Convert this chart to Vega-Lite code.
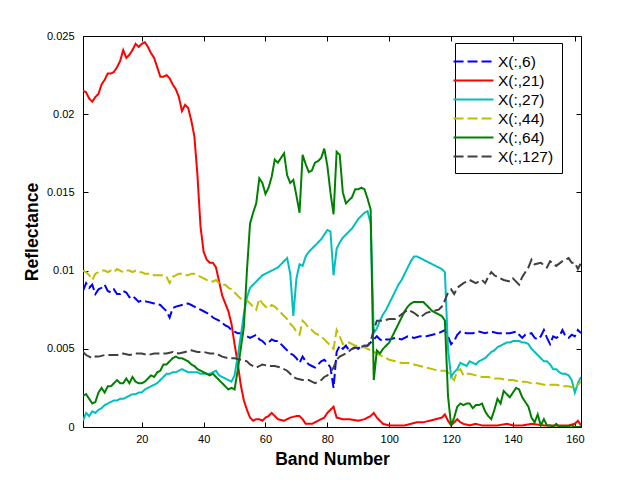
{
  "$schema": "https://vega.github.io/schema/vega-lite/v6.json",
  "autosize": "none",
  "width": 498,
  "height": 391,
  "padding": {"left": 83, "top": 36, "right": 60, "bottom": 53},
  "background": "white",
  "config": {
    "view": {"stroke": "black", "strokeWidth": 1},
    "font": "Liberation Sans",
    "axis": {
      "labelFont": "Liberation Sans", "labelFontSize": 11, "labelColor": "black",
      "titleFont": "Liberation Sans", "titleFontSize": 17.5, "titleFontWeight": "bold", "titleColor": "black",
      "tickColor": "black", "tickSize": -5, "domain": false, "grid": false
    }
  },
  "datasets": {
    "spectra": [
      {"s":"X(:,6)","b":1,"v":0.0087},{"s":"X(:,6)","b":2,"v":0.0092},{"s":"X(:,6)","b":3,"v":0.0089},{"s":"X(:,6)","b":4,"v":0.0091},{"s":"X(:,6)","b":5,"v":0.0085},{"s":"X(:,6)","b":6,"v":0.0088},{"s":"X(:,6)","b":7,"v":0.0089},{"s":"X(:,6)","b":8,"v":0.0091},{"s":"X(:,6)","b":9,"v":0.0087},{"s":"X(:,6)","b":10,"v":0.0086},{"s":"X(:,6)","b":11,"v":0.0088},{"s":"X(:,6)","b":12,"v":0.0085},{"s":"X(:,6)","b":13,"v":0.0085},{"s":"X(:,6)","b":14,"v":0.0087},{"s":"X(:,6)","b":15,"v":0.0086},{"s":"X(:,6)","b":16,"v":0.0083},{"s":"X(:,6)","b":17,"v":0.0084},{"s":"X(:,6)","b":18,"v":0.0082},{"s":"X(:,6)","b":19,"v":0.0080},{"s":"X(:,6)","b":20,"v":0.0081},{"s":"X(:,6)","b":22,"v":0.0080},{"s":"X(:,6)","b":24,"v":0.0079},{"s":"X(:,6)","b":26,"v":0.0078},{"s":"X(:,6)","b":27,"v":0.0076},{"s":"X(:,6)","b":28,"v":0.0074},{"s":"X(:,6)","b":29,"v":0.0070},{"s":"X(:,6)","b":30,"v":0.0076},{"s":"X(:,6)","b":31,"v":0.0077},{"s":"X(:,6)","b":33,"v":0.0078},{"s":"X(:,6)","b":35,"v":0.0079},{"s":"X(:,6)","b":36,"v":0.0078},{"s":"X(:,6)","b":37,"v":0.0077},{"s":"X(:,6)","b":39,"v":0.0075},{"s":"X(:,6)","b":40,"v":0.0074},{"s":"X(:,6)","b":42,"v":0.0072},{"s":"X(:,6)","b":43,"v":0.0070},{"s":"X(:,6)","b":44,"v":0.0069},{"s":"X(:,6)","b":45,"v":0.0068},{"s":"X(:,6)","b":47,"v":0.0065},{"s":"X(:,6)","b":48,"v":0.0064},{"s":"X(:,6)","b":49,"v":0.0062},{"s":"X(:,6)","b":50,"v":0.0061},{"s":"X(:,6)","b":51,"v":0.0060},{"s":"X(:,6)","b":52,"v":0.0060},{"s":"X(:,6)","b":53,"v":0.0059},{"s":"X(:,6)","b":54,"v":0.0058},{"s":"X(:,6)","b":55,"v":0.0057},{"s":"X(:,6)","b":56,"v":0.0058},{"s":"X(:,6)","b":57,"v":0.0059},{"s":"X(:,6)","b":58,"v":0.0056},{"s":"X(:,6)","b":59,"v":0.0055},{"s":"X(:,6)","b":60,"v":0.0053},{"s":"X(:,6)","b":61,"v":0.0054},{"s":"X(:,6)","b":62,"v":0.0056},{"s":"X(:,6)","b":63,"v":0.0055},{"s":"X(:,6)","b":64,"v":0.0055},{"s":"X(:,6)","b":65,"v":0.0053},{"s":"X(:,6)","b":66,"v":0.0051},{"s":"X(:,6)","b":67,"v":0.0049},{"s":"X(:,6)","b":68,"v":0.0047},{"s":"X(:,6)","b":69,"v":0.0046},{"s":"X(:,6)","b":70,"v":0.0044},{"s":"X(:,6)","b":71,"v":0.0041},{"s":"X(:,6)","b":72,"v":0.0045},{"s":"X(:,6)","b":73,"v":0.0042},{"s":"X(:,6)","b":74,"v":0.0040},{"s":"X(:,6)","b":75,"v":0.0039},{"s":"X(:,6)","b":76,"v":0.0038},{"s":"X(:,6)","b":77,"v":0.0040},{"s":"X(:,6)","b":78,"v":0.0042},{"s":"X(:,6)","b":79,"v":0.0043},{"s":"X(:,6)","b":80,"v":0.0041},{"s":"X(:,6)","b":81,"v":0.0038},{"s":"X(:,6)","b":82,"v":0.0025},{"s":"X(:,6)","b":83,"v":0.0048},{"s":"X(:,6)","b":84,"v":0.0052},{"s":"X(:,6)","b":85,"v":0.0050},{"s":"X(:,6)","b":86,"v":0.0052},{"s":"X(:,6)","b":87,"v":0.0049},{"s":"X(:,6)","b":88,"v":0.0050},{"s":"X(:,6)","b":89,"v":0.0051},{"s":"X(:,6)","b":90,"v":0.0050},{"s":"X(:,6)","b":91,"v":0.0052},{"s":"X(:,6)","b":92,"v":0.0052},{"s":"X(:,6)","b":93,"v":0.0052},{"s":"X(:,6)","b":94,"v":0.0054},{"s":"X(:,6)","b":95,"v":0.0056},{"s":"X(:,6)","b":96,"v":0.0058},{"s":"X(:,6)","b":97,"v":0.0056},{"s":"X(:,6)","b":98,"v":0.0055},{"s":"X(:,6)","b":99,"v":0.0056},{"s":"X(:,6)","b":100,"v":0.0056},{"s":"X(:,6)","b":102,"v":0.0057},{"s":"X(:,6)","b":104,"v":0.0056},{"s":"X(:,6)","b":106,"v":0.0058},{"s":"X(:,6)","b":108,"v":0.0057},{"s":"X(:,6)","b":110,"v":0.0058},{"s":"X(:,6)","b":112,"v":0.0058},{"s":"X(:,6)","b":114,"v":0.0059},{"s":"X(:,6)","b":116,"v":0.0060},{"s":"X(:,6)","b":117,"v":0.0061},{"s":"X(:,6)","b":118,"v":0.0062},{"s":"X(:,6)","b":119,"v":0.0058},{"s":"X(:,6)","b":120,"v":0.0053},{"s":"X(:,6)","b":121,"v":0.0055},{"s":"X(:,6)","b":122,"v":0.0059},{"s":"X(:,6)","b":123,"v":0.0061},{"s":"X(:,6)","b":125,"v":0.0060},{"s":"X(:,6)","b":127,"v":0.0060},{"s":"X(:,6)","b":129,"v":0.0061},{"s":"X(:,6)","b":131,"v":0.0060},{"s":"X(:,6)","b":133,"v":0.0061},{"s":"X(:,6)","b":135,"v":0.0060},{"s":"X(:,6)","b":137,"v":0.0060},{"s":"X(:,6)","b":139,"v":0.0060},{"s":"X(:,6)","b":141,"v":0.0061},{"s":"X(:,6)","b":142,"v":0.0059},{"s":"X(:,6)","b":143,"v":0.0057},{"s":"X(:,6)","b":144,"v":0.0059},{"s":"X(:,6)","b":146,"v":0.0060},{"s":"X(:,6)","b":147,"v":0.0057},{"s":"X(:,6)","b":148,"v":0.0056},{"s":"X(:,6)","b":149,"v":0.0058},{"s":"X(:,6)","b":150,"v":0.0062},{"s":"X(:,6)","b":151,"v":0.0057},{"s":"X(:,6)","b":152,"v":0.0053},{"s":"X(:,6)","b":153,"v":0.0058},{"s":"X(:,6)","b":154,"v":0.0057},{"s":"X(:,6)","b":155,"v":0.0058},{"s":"X(:,6)","b":156,"v":0.0062},{"s":"X(:,6)","b":157,"v":0.0058},{"s":"X(:,6)","b":158,"v":0.0057},{"s":"X(:,6)","b":159,"v":0.0059},{"s":"X(:,6)","b":160,"v":0.0058},{"s":"X(:,6)","b":161,"v":0.0062},{"s":"X(:,6)","b":162,"v":0.0060},
      {"s":"X(:,21)","b":1,"v":0.0215},{"s":"X(:,21)","b":2,"v":0.0214},{"s":"X(:,21)","b":3,"v":0.0210},{"s":"X(:,21)","b":4,"v":0.0208},{"s":"X(:,21)","b":5,"v":0.0211},{"s":"X(:,21)","b":6,"v":0.0213},{"s":"X(:,21)","b":7,"v":0.0219},{"s":"X(:,21)","b":8,"v":0.0222},{"s":"X(:,21)","b":9,"v":0.0226},{"s":"X(:,21)","b":10,"v":0.0226},{"s":"X(:,21)","b":11,"v":0.0227},{"s":"X(:,21)","b":12,"v":0.0230},{"s":"X(:,21)","b":13,"v":0.0234},{"s":"X(:,21)","b":14,"v":0.0241},{"s":"X(:,21)","b":15,"v":0.0236},{"s":"X(:,21)","b":16,"v":0.0238},{"s":"X(:,21)","b":17,"v":0.0241},{"s":"X(:,21)","b":18,"v":0.0245},{"s":"X(:,21)","b":19,"v":0.0243},{"s":"X(:,21)","b":20,"v":0.0245},{"s":"X(:,21)","b":21,"v":0.0246},{"s":"X(:,21)","b":22,"v":0.0243},{"s":"X(:,21)","b":23,"v":0.0239},{"s":"X(:,21)","b":24,"v":0.0236},{"s":"X(:,21)","b":25,"v":0.0230},{"s":"X(:,21)","b":26,"v":0.0224},{"s":"X(:,21)","b":27,"v":0.0224},{"s":"X(:,21)","b":28,"v":0.0225},{"s":"X(:,21)","b":29,"v":0.0223},{"s":"X(:,21)","b":30,"v":0.0219},{"s":"X(:,21)","b":31,"v":0.0216},{"s":"X(:,21)","b":32,"v":0.0211},{"s":"X(:,21)","b":33,"v":0.0202},{"s":"X(:,21)","b":34,"v":0.0206},{"s":"X(:,21)","b":35,"v":0.0204},{"s":"X(:,21)","b":36,"v":0.0196},{"s":"X(:,21)","b":37,"v":0.0186},{"s":"X(:,21)","b":38,"v":0.0161},{"s":"X(:,21)","b":39,"v":0.0128},{"s":"X(:,21)","b":40,"v":0.0112},{"s":"X(:,21)","b":41,"v":0.0107},{"s":"X(:,21)","b":42,"v":0.0105},{"s":"X(:,21)","b":43,"v":0.0105},{"s":"X(:,21)","b":44,"v":0.0102},{"s":"X(:,21)","b":45,"v":0.0093},{"s":"X(:,21)","b":46,"v":0.0084},{"s":"X(:,21)","b":47,"v":0.0079},{"s":"X(:,21)","b":48,"v":0.0074},{"s":"X(:,21)","b":49,"v":0.0066},{"s":"X(:,21)","b":50,"v":0.0053},{"s":"X(:,21)","b":51,"v":0.0041},{"s":"X(:,21)","b":52,"v":0.0027},{"s":"X(:,21)","b":53,"v":0.0017},{"s":"X(:,21)","b":54,"v":0.0011},{"s":"X(:,21)","b":55,"v":0.0006},{"s":"X(:,21)","b":56,"v":0.0004},{"s":"X(:,21)","b":57,"v":0.0005},{"s":"X(:,21)","b":58,"v":0.0005},{"s":"X(:,21)","b":59,"v":0.0004},{"s":"X(:,21)","b":60,"v":0.0006},{"s":"X(:,21)","b":61,"v":0.0007},{"s":"X(:,21)","b":62,"v":0.0009},{"s":"X(:,21)","b":63,"v":0.0007},{"s":"X(:,21)","b":64,"v":0.0005},{"s":"X(:,21)","b":66,"v":0.0004},{"s":"X(:,21)","b":68,"v":0.0006},{"s":"X(:,21)","b":70,"v":0.0007},{"s":"X(:,21)","b":71,"v":0.0007},{"s":"X(:,21)","b":72,"v":0.0005},{"s":"X(:,21)","b":73,"v":0.0002},{"s":"X(:,21)","b":75,"v":0.0002},{"s":"X(:,21)","b":76,"v":0.0003},{"s":"X(:,21)","b":78,"v":0.0005},{"s":"X(:,21)","b":79,"v":0.0006},{"s":"X(:,21)","b":80,"v":0.0009},{"s":"X(:,21)","b":81,"v":0.0011},{"s":"X(:,21)","b":82,"v":0.0013},{"s":"X(:,21)","b":83,"v":0.0006},{"s":"X(:,21)","b":85,"v":0.0005},{"s":"X(:,21)","b":87,"v":0.0005},{"s":"X(:,21)","b":90,"v":0.0004},{"s":"X(:,21)","b":92,"v":0.0005},{"s":"X(:,21)","b":94,"v":0.0007},{"s":"X(:,21)","b":95,"v":0.0009},{"s":"X(:,21)","b":96,"v":0.0006},{"s":"X(:,21)","b":97,"v":0.0004},{"s":"X(:,21)","b":98,"v":0.0002},{"s":"X(:,21)","b":100,"v":0.0001},{"s":"X(:,21)","b":103,"v":0.0001},{"s":"X(:,21)","b":105,"v":0.0001},{"s":"X(:,21)","b":107,"v":0.0002},{"s":"X(:,21)","b":109,"v":0.0003},{"s":"X(:,21)","b":111,"v":0.0003},{"s":"X(:,21)","b":113,"v":0.0004},{"s":"X(:,21)","b":115,"v":0.0005},{"s":"X(:,21)","b":117,"v":0.0006},{"s":"X(:,21)","b":118,"v":0.0008},{"s":"X(:,21)","b":119,"v":0.0004},{"s":"X(:,21)","b":120,"v":0.0001},{"s":"X(:,21)","b":121,"v":0.0003},{"s":"X(:,21)","b":122,"v":0.0005},{"s":"X(:,21)","b":123,"v":0.0003},{"s":"X(:,21)","b":124,"v":0.0002},{"s":"X(:,21)","b":126,"v":0.0001},{"s":"X(:,21)","b":128,"v":0.0002},{"s":"X(:,21)","b":130,"v":0.0001},{"s":"X(:,21)","b":132,"v":0.0001},{"s":"X(:,21)","b":135,"v":0.0001},{"s":"X(:,21)","b":138,"v":0.0002},{"s":"X(:,21)","b":140,"v":0.0001},{"s":"X(:,21)","b":143,"v":0.0001},{"s":"X(:,21)","b":146,"v":0.0002},{"s":"X(:,21)","b":150,"v":0.0001},{"s":"X(:,21)","b":154,"v":0.0001},{"s":"X(:,21)","b":158,"v":0.0001},{"s":"X(:,21)","b":160,"v":0.0002},{"s":"X(:,21)","b":161,"v":0.0004},{"s":"X(:,21)","b":162,"v":0.0001},
      {"s":"X(:,27)","b":1,"v":0.0004},{"s":"X(:,27)","b":2,"v":0.0009},{"s":"X(:,27)","b":3,"v":0.0007},{"s":"X(:,27)","b":4,"v":0.0010},{"s":"X(:,27)","b":5,"v":0.0009},{"s":"X(:,27)","b":6,"v":0.0011},{"s":"X(:,27)","b":7,"v":0.0012},{"s":"X(:,27)","b":8,"v":0.0014},{"s":"X(:,27)","b":9,"v":0.0015},{"s":"X(:,27)","b":10,"v":0.0016},{"s":"X(:,27)","b":11,"v":0.0017},{"s":"X(:,27)","b":12,"v":0.0017},{"s":"X(:,27)","b":13,"v":0.0018},{"s":"X(:,27)","b":14,"v":0.0018},{"s":"X(:,27)","b":15,"v":0.0019},{"s":"X(:,27)","b":16,"v":0.0020},{"s":"X(:,27)","b":17,"v":0.0021},{"s":"X(:,27)","b":18,"v":0.0021},{"s":"X(:,27)","b":19,"v":0.0022},{"s":"X(:,27)","b":20,"v":0.0022},{"s":"X(:,27)","b":21,"v":0.0024},{"s":"X(:,27)","b":22,"v":0.0025},{"s":"X(:,27)","b":23,"v":0.0026},{"s":"X(:,27)","b":24,"v":0.0027},{"s":"X(:,27)","b":25,"v":0.0028},{"s":"X(:,27)","b":26,"v":0.0030},{"s":"X(:,27)","b":27,"v":0.0032},{"s":"X(:,27)","b":28,"v":0.0034},{"s":"X(:,27)","b":29,"v":0.0034},{"s":"X(:,27)","b":30,"v":0.0035},{"s":"X(:,27)","b":31,"v":0.0035},{"s":"X(:,27)","b":32,"v":0.0036},{"s":"X(:,27)","b":33,"v":0.0037},{"s":"X(:,27)","b":34,"v":0.0036},{"s":"X(:,27)","b":35,"v":0.0035},{"s":"X(:,27)","b":36,"v":0.0035},{"s":"X(:,27)","b":37,"v":0.0035},{"s":"X(:,27)","b":38,"v":0.0035},{"s":"X(:,27)","b":39,"v":0.0034},{"s":"X(:,27)","b":40,"v":0.0034},{"s":"X(:,27)","b":41,"v":0.0034},{"s":"X(:,27)","b":42,"v":0.0034},{"s":"X(:,27)","b":43,"v":0.0035},{"s":"X(:,27)","b":44,"v":0.0036},{"s":"X(:,27)","b":45,"v":0.0033},{"s":"X(:,27)","b":46,"v":0.0032},{"s":"X(:,27)","b":47,"v":0.0031},{"s":"X(:,27)","b":48,"v":0.0030},{"s":"X(:,27)","b":49,"v":0.0029},{"s":"X(:,27)","b":50,"v":0.0033},{"s":"X(:,27)","b":51,"v":0.0045},{"s":"X(:,27)","b":52,"v":0.0058},{"s":"X(:,27)","b":53,"v":0.0072},{"s":"X(:,27)","b":54,"v":0.0083},{"s":"X(:,27)","b":55,"v":0.0089},{"s":"X(:,27)","b":56,"v":0.0091},{"s":"X(:,27)","b":57,"v":0.0093},{"s":"X(:,27)","b":58,"v":0.0095},{"s":"X(:,27)","b":59,"v":0.0097},{"s":"X(:,27)","b":60,"v":0.0098},{"s":"X(:,27)","b":61,"v":0.0099},{"s":"X(:,27)","b":62,"v":0.0100},{"s":"X(:,27)","b":63,"v":0.0101},{"s":"X(:,27)","b":64,"v":0.0102},{"s":"X(:,27)","b":65,"v":0.0104},{"s":"X(:,27)","b":66,"v":0.0106},{"s":"X(:,27)","b":67,"v":0.0108},{"s":"X(:,27)","b":68,"v":0.0098},{"s":"X(:,27)","b":69,"v":0.0071},{"s":"X(:,27)","b":70,"v":0.0095},{"s":"X(:,27)","b":71,"v":0.0104},{"s":"X(:,27)","b":72,"v":0.0103},{"s":"X(:,27)","b":73,"v":0.0109},{"s":"X(:,27)","b":74,"v":0.0112},{"s":"X(:,27)","b":75,"v":0.0114},{"s":"X(:,27)","b":76,"v":0.0116},{"s":"X(:,27)","b":77,"v":0.0118},{"s":"X(:,27)","b":78,"v":0.0120},{"s":"X(:,27)","b":79,"v":0.0123},{"s":"X(:,27)","b":80,"v":0.0126},{"s":"X(:,27)","b":81,"v":0.0125},{"s":"X(:,27)","b":82,"v":0.0097},{"s":"X(:,27)","b":83,"v":0.0114},{"s":"X(:,27)","b":84,"v":0.0118},{"s":"X(:,27)","b":85,"v":0.0121},{"s":"X(:,27)","b":86,"v":0.0123},{"s":"X(:,27)","b":87,"v":0.0125},{"s":"X(:,27)","b":88,"v":0.0127},{"s":"X(:,27)","b":89,"v":0.0130},{"s":"X(:,27)","b":90,"v":0.0133},{"s":"X(:,27)","b":91,"v":0.0135},{"s":"X(:,27)","b":92,"v":0.0137},{"s":"X(:,27)","b":93,"v":0.0138},{"s":"X(:,27)","b":94,"v":0.0130},{"s":"X(:,27)","b":95,"v":0.0060},{"s":"X(:,27)","b":96,"v":0.0063},{"s":"X(:,27)","b":97,"v":0.0068},{"s":"X(:,27)","b":98,"v":0.0072},{"s":"X(:,27)","b":99,"v":0.0075},{"s":"X(:,27)","b":100,"v":0.0079},{"s":"X(:,27)","b":101,"v":0.0083},{"s":"X(:,27)","b":102,"v":0.0087},{"s":"X(:,27)","b":103,"v":0.0091},{"s":"X(:,27)","b":104,"v":0.0094},{"s":"X(:,27)","b":105,"v":0.0098},{"s":"X(:,27)","b":106,"v":0.0102},{"s":"X(:,27)","b":107,"v":0.0106},{"s":"X(:,27)","b":108,"v":0.0109},{"s":"X(:,27)","b":109,"v":0.0109},{"s":"X(:,27)","b":110,"v":0.0108},{"s":"X(:,27)","b":111,"v":0.0107},{"s":"X(:,27)","b":112,"v":0.0106},{"s":"X(:,27)","b":113,"v":0.0105},{"s":"X(:,27)","b":114,"v":0.0104},{"s":"X(:,27)","b":115,"v":0.0103},{"s":"X(:,27)","b":116,"v":0.0102},{"s":"X(:,27)","b":117,"v":0.0101},{"s":"X(:,27)","b":118,"v":0.0099},{"s":"X(:,27)","b":119,"v":0.0050},{"s":"X(:,27)","b":120,"v":0.0032},{"s":"X(:,27)","b":121,"v":0.0035},{"s":"X(:,27)","b":122,"v":0.0037},{"s":"X(:,27)","b":123,"v":0.0041},{"s":"X(:,27)","b":124,"v":0.0040},{"s":"X(:,27)","b":125,"v":0.0039},{"s":"X(:,27)","b":126,"v":0.0042},{"s":"X(:,27)","b":127,"v":0.0041},{"s":"X(:,27)","b":128,"v":0.0040},{"s":"X(:,27)","b":129,"v":0.0042},{"s":"X(:,27)","b":130,"v":0.0043},{"s":"X(:,27)","b":131,"v":0.0044},{"s":"X(:,27)","b":132,"v":0.0046},{"s":"X(:,27)","b":133,"v":0.0048},{"s":"X(:,27)","b":134,"v":0.0049},{"s":"X(:,27)","b":135,"v":0.0051},{"s":"X(:,27)","b":136,"v":0.0052},{"s":"X(:,27)","b":137,"v":0.0053},{"s":"X(:,27)","b":138,"v":0.0054},{"s":"X(:,27)","b":139,"v":0.0054},{"s":"X(:,27)","b":140,"v":0.0055},{"s":"X(:,27)","b":141,"v":0.0055},{"s":"X(:,27)","b":142,"v":0.0055},{"s":"X(:,27)","b":143,"v":0.0054},{"s":"X(:,27)","b":144,"v":0.0054},{"s":"X(:,27)","b":145,"v":0.0053},{"s":"X(:,27)","b":146,"v":0.0050},{"s":"X(:,27)","b":147,"v":0.0048},{"s":"X(:,27)","b":148,"v":0.0046},{"s":"X(:,27)","b":149,"v":0.0044},{"s":"X(:,27)","b":150,"v":0.0042},{"s":"X(:,27)","b":151,"v":0.0042},{"s":"X(:,27)","b":152,"v":0.0040},{"s":"X(:,27)","b":153,"v":0.0037},{"s":"X(:,27)","b":154,"v":0.0037},{"s":"X(:,27)","b":155,"v":0.0035},{"s":"X(:,27)","b":156,"v":0.0034},{"s":"X(:,27)","b":157,"v":0.0034},{"s":"X(:,27)","b":158,"v":0.0033},{"s":"X(:,27)","b":159,"v":0.0030},{"s":"X(:,27)","b":160,"v":0.0022},{"s":"X(:,27)","b":161,"v":0.0028},{"s":"X(:,27)","b":162,"v":0.0032},
      {"s":"X(:,44)","b":1,"v":0.0100},{"s":"X(:,44)","b":2,"v":0.0099},{"s":"X(:,44)","b":3,"v":0.0097},{"s":"X(:,44)","b":4,"v":0.0094},{"s":"X(:,44)","b":5,"v":0.0098},{"s":"X(:,44)","b":6,"v":0.0099},{"s":"X(:,44)","b":7,"v":0.0100},{"s":"X(:,44)","b":8,"v":0.0100},{"s":"X(:,44)","b":9,"v":0.0099},{"s":"X(:,44)","b":10,"v":0.0100},{"s":"X(:,44)","b":11,"v":0.0099},{"s":"X(:,44)","b":12,"v":0.0101},{"s":"X(:,44)","b":13,"v":0.0100},{"s":"X(:,44)","b":14,"v":0.0099},{"s":"X(:,44)","b":15,"v":0.0100},{"s":"X(:,44)","b":16,"v":0.0100},{"s":"X(:,44)","b":17,"v":0.0099},{"s":"X(:,44)","b":18,"v":0.0100},{"s":"X(:,44)","b":19,"v":0.0099},{"s":"X(:,44)","b":20,"v":0.0099},{"s":"X(:,44)","b":21,"v":0.0098},{"s":"X(:,44)","b":22,"v":0.0098},{"s":"X(:,44)","b":23,"v":0.0098},{"s":"X(:,44)","b":24,"v":0.0097},{"s":"X(:,44)","b":25,"v":0.0097},{"s":"X(:,44)","b":26,"v":0.0097},{"s":"X(:,44)","b":27,"v":0.0097},{"s":"X(:,44)","b":28,"v":0.0096},{"s":"X(:,44)","b":29,"v":0.0092},{"s":"X(:,44)","b":30,"v":0.0096},{"s":"X(:,44)","b":31,"v":0.0097},{"s":"X(:,44)","b":32,"v":0.0098},{"s":"X(:,44)","b":33,"v":0.0098},{"s":"X(:,44)","b":34,"v":0.0097},{"s":"X(:,44)","b":35,"v":0.0097},{"s":"X(:,44)","b":36,"v":0.0098},{"s":"X(:,44)","b":37,"v":0.0098},{"s":"X(:,44)","b":38,"v":0.0097},{"s":"X(:,44)","b":39,"v":0.0096},{"s":"X(:,44)","b":40,"v":0.0095},{"s":"X(:,44)","b":41,"v":0.0094},{"s":"X(:,44)","b":42,"v":0.0094},{"s":"X(:,44)","b":43,"v":0.0093},{"s":"X(:,44)","b":44,"v":0.0094},{"s":"X(:,44)","b":45,"v":0.0092},{"s":"X(:,44)","b":46,"v":0.0091},{"s":"X(:,44)","b":47,"v":0.0091},{"s":"X(:,44)","b":48,"v":0.0089},{"s":"X(:,44)","b":49,"v":0.0088},{"s":"X(:,44)","b":50,"v":0.0086},{"s":"X(:,44)","b":51,"v":0.0084},{"s":"X(:,44)","b":52,"v":0.0082},{"s":"X(:,44)","b":53,"v":0.0081},{"s":"X(:,44)","b":54,"v":0.0081},{"s":"X(:,44)","b":55,"v":0.0079},{"s":"X(:,44)","b":56,"v":0.0077},{"s":"X(:,44)","b":57,"v":0.0075},{"s":"X(:,44)","b":58,"v":0.0082},{"s":"X(:,44)","b":59,"v":0.0079},{"s":"X(:,44)","b":60,"v":0.0077},{"s":"X(:,44)","b":61,"v":0.0076},{"s":"X(:,44)","b":62,"v":0.0078},{"s":"X(:,44)","b":63,"v":0.0077},{"s":"X(:,44)","b":64,"v":0.0075},{"s":"X(:,44)","b":65,"v":0.0073},{"s":"X(:,44)","b":66,"v":0.0071},{"s":"X(:,44)","b":67,"v":0.0069},{"s":"X(:,44)","b":68,"v":0.0066},{"s":"X(:,44)","b":69,"v":0.0064},{"s":"X(:,44)","b":70,"v":0.0061},{"s":"X(:,44)","b":71,"v":0.0059},{"s":"X(:,44)","b":72,"v":0.0068},{"s":"X(:,44)","b":73,"v":0.0066},{"s":"X(:,44)","b":74,"v":0.0063},{"s":"X(:,44)","b":75,"v":0.0062},{"s":"X(:,44)","b":76,"v":0.0060},{"s":"X(:,44)","b":77,"v":0.0059},{"s":"X(:,44)","b":78,"v":0.0058},{"s":"X(:,44)","b":79,"v":0.0056},{"s":"X(:,44)","b":80,"v":0.0054},{"s":"X(:,44)","b":81,"v":0.0052},{"s":"X(:,44)","b":82,"v":0.0050},{"s":"X(:,44)","b":83,"v":0.0062},{"s":"X(:,44)","b":84,"v":0.0058},{"s":"X(:,44)","b":85,"v":0.0053},{"s":"X(:,44)","b":86,"v":0.0054},{"s":"X(:,44)","b":87,"v":0.0054},{"s":"X(:,44)","b":88,"v":0.0053},{"s":"X(:,44)","b":89,"v":0.0052},{"s":"X(:,44)","b":90,"v":0.0052},{"s":"X(:,44)","b":91,"v":0.0051},{"s":"X(:,44)","b":92,"v":0.0051},{"s":"X(:,44)","b":93,"v":0.0050},{"s":"X(:,44)","b":94,"v":0.0049},{"s":"X(:,44)","b":95,"v":0.0048},{"s":"X(:,44)","b":96,"v":0.0047},{"s":"X(:,44)","b":97,"v":0.0046},{"s":"X(:,44)","b":98,"v":0.0045},{"s":"X(:,44)","b":99,"v":0.0044},{"s":"X(:,44)","b":100,"v":0.0043},{"s":"X(:,44)","b":102,"v":0.0042},{"s":"X(:,44)","b":104,"v":0.0041},{"s":"X(:,44)","b":106,"v":0.0041},{"s":"X(:,44)","b":108,"v":0.0040},{"s":"X(:,44)","b":110,"v":0.0039},{"s":"X(:,44)","b":112,"v":0.0038},{"s":"X(:,44)","b":114,"v":0.0037},{"s":"X(:,44)","b":116,"v":0.0036},{"s":"X(:,44)","b":118,"v":0.0036},{"s":"X(:,44)","b":119,"v":0.0035},{"s":"X(:,44)","b":120,"v":0.0032},{"s":"X(:,44)","b":121,"v":0.0030},{"s":"X(:,44)","b":122,"v":0.0036},{"s":"X(:,44)","b":123,"v":0.0037},{"s":"X(:,44)","b":124,"v":0.0033},{"s":"X(:,44)","b":125,"v":0.0034},{"s":"X(:,44)","b":126,"v":0.0034},{"s":"X(:,44)","b":128,"v":0.0033},{"s":"X(:,44)","b":130,"v":0.0032},{"s":"X(:,44)","b":132,"v":0.0032},{"s":"X(:,44)","b":134,"v":0.0031},{"s":"X(:,44)","b":136,"v":0.0031},{"s":"X(:,44)","b":138,"v":0.0030},{"s":"X(:,44)","b":140,"v":0.0030},{"s":"X(:,44)","b":142,"v":0.0029},{"s":"X(:,44)","b":144,"v":0.0029},{"s":"X(:,44)","b":146,"v":0.0028},{"s":"X(:,44)","b":148,"v":0.0028},{"s":"X(:,44)","b":150,"v":0.0027},{"s":"X(:,44)","b":152,"v":0.0027},{"s":"X(:,44)","b":154,"v":0.0027},{"s":"X(:,44)","b":156,"v":0.0026},{"s":"X(:,44)","b":158,"v":0.0026},{"s":"X(:,44)","b":160,"v":0.0025},{"s":"X(:,44)","b":161,"v":0.0027},{"s":"X(:,44)","b":162,"v":0.0029},
      {"s":"X(:,64)","b":1,"v":0.0020},{"s":"X(:,64)","b":2,"v":0.0021},{"s":"X(:,64)","b":3,"v":0.0018},{"s":"X(:,64)","b":4,"v":0.0015},{"s":"X(:,64)","b":5,"v":0.0016},{"s":"X(:,64)","b":6,"v":0.0022},{"s":"X(:,64)","b":7,"v":0.0025},{"s":"X(:,64)","b":8,"v":0.0022},{"s":"X(:,64)","b":9,"v":0.0026},{"s":"X(:,64)","b":10,"v":0.0026},{"s":"X(:,64)","b":11,"v":0.0028},{"s":"X(:,64)","b":12,"v":0.0030},{"s":"X(:,64)","b":13,"v":0.0028},{"s":"X(:,64)","b":14,"v":0.0028},{"s":"X(:,64)","b":15,"v":0.0031},{"s":"X(:,64)","b":16,"v":0.0028},{"s":"X(:,64)","b":17,"v":0.0032},{"s":"X(:,64)","b":18,"v":0.0029},{"s":"X(:,64)","b":19,"v":0.0028},{"s":"X(:,64)","b":20,"v":0.0028},{"s":"X(:,64)","b":21,"v":0.0029},{"s":"X(:,64)","b":22,"v":0.0031},{"s":"X(:,64)","b":23,"v":0.0033},{"s":"X(:,64)","b":24,"v":0.0032},{"s":"X(:,64)","b":25,"v":0.0035},{"s":"X(:,64)","b":26,"v":0.0036},{"s":"X(:,64)","b":27,"v":0.0040},{"s":"X(:,64)","b":28,"v":0.0040},{"s":"X(:,64)","b":29,"v":0.0042},{"s":"X(:,64)","b":30,"v":0.0044},{"s":"X(:,64)","b":31,"v":0.0045},{"s":"X(:,64)","b":32,"v":0.0044},{"s":"X(:,64)","b":33,"v":0.0044},{"s":"X(:,64)","b":34,"v":0.0043},{"s":"X(:,64)","b":35,"v":0.0042},{"s":"X(:,64)","b":36,"v":0.0040},{"s":"X(:,64)","b":37,"v":0.0039},{"s":"X(:,64)","b":38,"v":0.0037},{"s":"X(:,64)","b":39,"v":0.0036},{"s":"X(:,64)","b":40,"v":0.0035},{"s":"X(:,64)","b":41,"v":0.0034},{"s":"X(:,64)","b":42,"v":0.0033},{"s":"X(:,64)","b":43,"v":0.0034},{"s":"X(:,64)","b":44,"v":0.0032},{"s":"X(:,64)","b":45,"v":0.0030},{"s":"X(:,64)","b":46,"v":0.0028},{"s":"X(:,64)","b":47,"v":0.0026},{"s":"X(:,64)","b":48,"v":0.0024},{"s":"X(:,64)","b":49,"v":0.0025},{"s":"X(:,64)","b":50,"v":0.0024},{"s":"X(:,64)","b":51,"v":0.0036},{"s":"X(:,64)","b":52,"v":0.0050},{"s":"X(:,64)","b":53,"v":0.0064},{"s":"X(:,64)","b":54,"v":0.0100},{"s":"X(:,64)","b":55,"v":0.0130},{"s":"X(:,64)","b":56,"v":0.0137},{"s":"X(:,64)","b":57,"v":0.0143},{"s":"X(:,64)","b":58,"v":0.0159},{"s":"X(:,64)","b":59,"v":0.0156},{"s":"X(:,64)","b":60,"v":0.0149},{"s":"X(:,64)","b":61,"v":0.0153},{"s":"X(:,64)","b":62,"v":0.0160},{"s":"X(:,64)","b":63,"v":0.0171},{"s":"X(:,64)","b":64,"v":0.0169},{"s":"X(:,64)","b":65,"v":0.0172},{"s":"X(:,64)","b":66,"v":0.0175},{"s":"X(:,64)","b":67,"v":0.0161},{"s":"X(:,64)","b":68,"v":0.0156},{"s":"X(:,64)","b":69,"v":0.0158},{"s":"X(:,64)","b":70,"v":0.0148},{"s":"X(:,64)","b":71,"v":0.0137},{"s":"X(:,64)","b":72,"v":0.0174},{"s":"X(:,64)","b":73,"v":0.0168},{"s":"X(:,64)","b":74,"v":0.0163},{"s":"X(:,64)","b":75,"v":0.0164},{"s":"X(:,64)","b":76,"v":0.0169},{"s":"X(:,64)","b":77,"v":0.0170},{"s":"X(:,64)","b":78,"v":0.0172},{"s":"X(:,64)","b":79,"v":0.0178},{"s":"X(:,64)","b":80,"v":0.0167},{"s":"X(:,64)","b":81,"v":0.0150},{"s":"X(:,64)","b":82,"v":0.0136},{"s":"X(:,64)","b":83,"v":0.0176},{"s":"X(:,64)","b":84,"v":0.0174},{"s":"X(:,64)","b":85,"v":0.0150},{"s":"X(:,64)","b":86,"v":0.0143},{"s":"X(:,64)","b":87,"v":0.0145},{"s":"X(:,64)","b":88,"v":0.0147},{"s":"X(:,64)","b":89,"v":0.0152},{"s":"X(:,64)","b":90,"v":0.0152},{"s":"X(:,64)","b":91,"v":0.0153},{"s":"X(:,64)","b":92,"v":0.0152},{"s":"X(:,64)","b":93,"v":0.0146},{"s":"X(:,64)","b":94,"v":0.0139},{"s":"X(:,64)","b":95,"v":0.0030},{"s":"X(:,64)","b":96,"v":0.0049},{"s":"X(:,64)","b":97,"v":0.0047},{"s":"X(:,64)","b":98,"v":0.0050},{"s":"X(:,64)","b":99,"v":0.0052},{"s":"X(:,64)","b":100,"v":0.0054},{"s":"X(:,64)","b":101,"v":0.0058},{"s":"X(:,64)","b":102,"v":0.0062},{"s":"X(:,64)","b":103,"v":0.0066},{"s":"X(:,64)","b":104,"v":0.0070},{"s":"X(:,64)","b":105,"v":0.0074},{"s":"X(:,64)","b":106,"v":0.0077},{"s":"X(:,64)","b":107,"v":0.0079},{"s":"X(:,64)","b":108,"v":0.0080},{"s":"X(:,64)","b":109,"v":0.0080},{"s":"X(:,64)","b":110,"v":0.0080},{"s":"X(:,64)","b":111,"v":0.0080},{"s":"X(:,64)","b":112,"v":0.0078},{"s":"X(:,64)","b":113,"v":0.0076},{"s":"X(:,64)","b":114,"v":0.0074},{"s":"X(:,64)","b":115,"v":0.0073},{"s":"X(:,64)","b":116,"v":0.0072},{"s":"X(:,64)","b":117,"v":0.0071},{"s":"X(:,64)","b":118,"v":0.0068},{"s":"X(:,64)","b":119,"v":0.0020},{"s":"X(:,64)","b":120,"v":0.0001},{"s":"X(:,64)","b":121,"v":0.0006},{"s":"X(:,64)","b":122,"v":0.0013},{"s":"X(:,64)","b":123,"v":0.0015},{"s":"X(:,64)","b":124,"v":0.0014},{"s":"X(:,64)","b":125,"v":0.0015},{"s":"X(:,64)","b":126,"v":0.0015},{"s":"X(:,64)","b":127,"v":0.0012},{"s":"X(:,64)","b":128,"v":0.0014},{"s":"X(:,64)","b":129,"v":0.0014},{"s":"X(:,64)","b":130,"v":0.0015},{"s":"X(:,64)","b":131,"v":0.0010},{"s":"X(:,64)","b":132,"v":0.0007},{"s":"X(:,64)","b":133,"v":0.0005},{"s":"X(:,64)","b":134,"v":0.0011},{"s":"X(:,64)","b":135,"v":0.0018},{"s":"X(:,64)","b":136,"v":0.0015},{"s":"X(:,64)","b":137,"v":0.0023},{"s":"X(:,64)","b":138,"v":0.0021},{"s":"X(:,64)","b":139,"v":0.0019},{"s":"X(:,64)","b":140,"v":0.0022},{"s":"X(:,64)","b":141,"v":0.0025},{"s":"X(:,64)","b":142,"v":0.0024},{"s":"X(:,64)","b":143,"v":0.0019},{"s":"X(:,64)","b":144,"v":0.0016},{"s":"X(:,64)","b":145,"v":0.0013},{"s":"X(:,64)","b":146,"v":0.0006},{"s":"X(:,64)","b":147,"v":0.0003},{"s":"X(:,64)","b":148,"v":0.0008},{"s":"X(:,64)","b":149,"v":0.0001},{"s":"X(:,64)","b":150,"v":0.0005},{"s":"X(:,64)","b":151,"v":0.0001},{"s":"X(:,64)","b":152,"v":0.0001},{"s":"X(:,64)","b":153,"v":0.0000},{"s":"X(:,64)","b":154,"v":0.0002},{"s":"X(:,64)","b":155,"v":0.0000},{"s":"X(:,64)","b":157,"v":0.0000},{"s":"X(:,64)","b":159,"v":0.0001},{"s":"X(:,64)","b":160,"v":0.0000},{"s":"X(:,64)","b":162,"v":0.0000},
      {"s":"X(:,127)","b":1,"v":0.0048},{"s":"X(:,127)","b":2,"v":0.0046},{"s":"X(:,127)","b":3,"v":0.0045},{"s":"X(:,127)","b":4,"v":0.0044},{"s":"X(:,127)","b":5,"v":0.0045},{"s":"X(:,127)","b":6,"v":0.0045},{"s":"X(:,127)","b":8,"v":0.0046},{"s":"X(:,127)","b":10,"v":0.0046},{"s":"X(:,127)","b":12,"v":0.0046},{"s":"X(:,127)","b":14,"v":0.0047},{"s":"X(:,127)","b":16,"v":0.0046},{"s":"X(:,127)","b":18,"v":0.0047},{"s":"X(:,127)","b":20,"v":0.0047},{"s":"X(:,127)","b":22,"v":0.0046},{"s":"X(:,127)","b":24,"v":0.0047},{"s":"X(:,127)","b":26,"v":0.0047},{"s":"X(:,127)","b":28,"v":0.0047},{"s":"X(:,127)","b":30,"v":0.0048},{"s":"X(:,127)","b":32,"v":0.0047},{"s":"X(:,127)","b":34,"v":0.0048},{"s":"X(:,127)","b":36,"v":0.0049},{"s":"X(:,127)","b":38,"v":0.0048},{"s":"X(:,127)","b":40,"v":0.0048},{"s":"X(:,127)","b":42,"v":0.0047},{"s":"X(:,127)","b":44,"v":0.0047},{"s":"X(:,127)","b":46,"v":0.0045},{"s":"X(:,127)","b":48,"v":0.0044},{"s":"X(:,127)","b":50,"v":0.0044},{"s":"X(:,127)","b":52,"v":0.0043},{"s":"X(:,127)","b":54,"v":0.0042},{"s":"X(:,127)","b":55,"v":0.0040},{"s":"X(:,127)","b":57,"v":0.0038},{"s":"X(:,127)","b":59,"v":0.0040},{"s":"X(:,127)","b":61,"v":0.0039},{"s":"X(:,127)","b":63,"v":0.0039},{"s":"X(:,127)","b":65,"v":0.0038},{"s":"X(:,127)","b":67,"v":0.0036},{"s":"X(:,127)","b":68,"v":0.0034},{"s":"X(:,127)","b":69,"v":0.0032},{"s":"X(:,127)","b":70,"v":0.0031},{"s":"X(:,127)","b":72,"v":0.0030},{"s":"X(:,127)","b":74,"v":0.0030},{"s":"X(:,127)","b":75,"v":0.0029},{"s":"X(:,127)","b":76,"v":0.0028},{"s":"X(:,127)","b":77,"v":0.0029},{"s":"X(:,127)","b":78,"v":0.0030},{"s":"X(:,127)","b":79,"v":0.0032},{"s":"X(:,127)","b":80,"v":0.0033},{"s":"X(:,127)","b":81,"v":0.0035},{"s":"X(:,127)","b":82,"v":0.0038},{"s":"X(:,127)","b":83,"v":0.0043},{"s":"X(:,127)","b":84,"v":0.0045},{"s":"X(:,127)","b":86,"v":0.0047},{"s":"X(:,127)","b":88,"v":0.0050},{"s":"X(:,127)","b":90,"v":0.0051},{"s":"X(:,127)","b":92,"v":0.0052},{"s":"X(:,127)","b":93,"v":0.0052},{"s":"X(:,127)","b":94,"v":0.0055},{"s":"X(:,127)","b":95,"v":0.0062},{"s":"X(:,127)","b":96,"v":0.0068},{"s":"X(:,127)","b":98,"v":0.0068},{"s":"X(:,127)","b":100,"v":0.0069},{"s":"X(:,127)","b":102,"v":0.0069},{"s":"X(:,127)","b":104,"v":0.0072},{"s":"X(:,127)","b":106,"v":0.0075},{"s":"X(:,127)","b":108,"v":0.0073},{"s":"X(:,127)","b":110,"v":0.0070},{"s":"X(:,127)","b":112,"v":0.0073},{"s":"X(:,127)","b":114,"v":0.0074},{"s":"X(:,127)","b":116,"v":0.0075},{"s":"X(:,127)","b":117,"v":0.0077},{"s":"X(:,127)","b":118,"v":0.0081},{"s":"X(:,127)","b":119,"v":0.0086},{"s":"X(:,127)","b":120,"v":0.0088},{"s":"X(:,127)","b":121,"v":0.0085},{"s":"X(:,127)","b":122,"v":0.0089},{"s":"X(:,127)","b":124,"v":0.0092},{"s":"X(:,127)","b":126,"v":0.0094},{"s":"X(:,127)","b":128,"v":0.0092},{"s":"X(:,127)","b":130,"v":0.0094},{"s":"X(:,127)","b":131,"v":0.0092},{"s":"X(:,127)","b":132,"v":0.0096},{"s":"X(:,127)","b":133,"v":0.0099},{"s":"X(:,127)","b":134,"v":0.0097},{"s":"X(:,127)","b":135,"v":0.0096},{"s":"X(:,127)","b":137,"v":0.0094},{"s":"X(:,127)","b":139,"v":0.0093},{"s":"X(:,127)","b":140,"v":0.0095},{"s":"X(:,127)","b":142,"v":0.0091},{"s":"X(:,127)","b":143,"v":0.0096},{"s":"X(:,127)","b":145,"v":0.0102},{"s":"X(:,127)","b":146,"v":0.0107},{"s":"X(:,127)","b":147,"v":0.0104},{"s":"X(:,127)","b":149,"v":0.0105},{"s":"X(:,127)","b":151,"v":0.0102},{"s":"X(:,127)","b":152,"v":0.0106},{"s":"X(:,127)","b":154,"v":0.0103},{"s":"X(:,127)","b":156,"v":0.0106},{"s":"X(:,127)","b":158,"v":0.0108},{"s":"X(:,127)","b":159,"v":0.0105},{"s":"X(:,127)","b":160,"v":0.0105},{"s":"X(:,127)","b":161,"v":0.0101},{"s":"X(:,127)","b":162,"v":0.0105}
    ]
  },
  "data": {"name": "spectra"},
  "resolve": {"axis": {"x": "independent", "y": "independent"}},
  "layer": [
    {
      "mark": {"type": "line", "strokeWidth": 2, "clip": true},
      "encoding": {
        "x": {"field": "b", "type": "quantitative", "scale": {"domain": [1, 162], "nice": false, "zero": false},
              "axis": {"title": "Band Number", "values": [20, 40, 60, 80, 100, 120, 140, 160], "labelPadding": 11, "titlePadding": 6}},
        "y": {"field": "v", "type": "quantitative", "scale": {"domain": [0, 0.025], "nice": false, "zero": false},
              "axis": {"title": "Reflectance", "values": [0, 0.005, 0.01, 0.015, 0.02, 0.025], "format": "~g", "labelPadding": 14, "titlePadding": 5}},
        "color": {"field": "s", "type": "nominal",
          "scale": {"domain": ["X(:,6)", "X(:,21)", "X(:,27)", "X(:,44)", "X(:,64)", "X(:,127)"],
                    "range": ["#0000FF", "#FF0000", "#00BFBF", "#BFBF00", "#008000", "#404040"]},
          "legend": {"title": null, "orient": "none", "legendX": 372, "legendY": 7, "direction": "vertical",
            "strokeColor": "black", "fillColor": "white", "padding": 8, "cornerRadius": 0,
            "symbolType": "M-2.1,0H2.1", "symbolSize": 361, "symbolStrokeWidth": 2, "labelOffset": 14,
            "labelFont": "Liberation Sans", "labelFontSize": 15.5, "labelColor": "black", "rowPadding": 0}},
        "strokeDash": {"field": "s", "type": "nominal",
          "scale": {"domain": ["X(:,6)", "X(:,21)", "X(:,27)", "X(:,44)", "X(:,64)", "X(:,127)"],
                    "range": [[10, 4], [1, 0], [1, 0], [10, 4], [1, 0], [10, 4]]}}
      }
    },
    {
      "mark": {"type": "point", "opacity": 0},
      "encoding": {
        "x": {"field": "b", "type": "quantitative", "axis": {"orient": "top", "labels": false, "title": null, "values": [20, 40, 60, 80, 100, 120, 140, 160]}},
        "y": {"field": "v", "type": "quantitative", "axis": {"orient": "right", "labels": false, "title": null, "values": [0, 0.005, 0.01, 0.015, 0.02, 0.025]}}
      }
    }
  ]
}
